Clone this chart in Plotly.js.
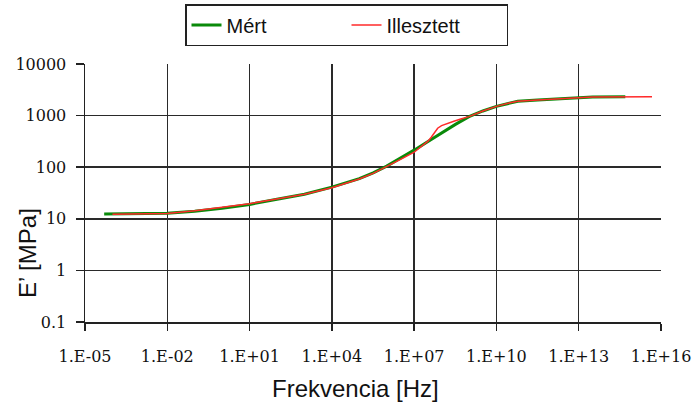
<!DOCTYPE html>
<html>
<head>
<meta charset="utf-8">
<script src="https://cdn.plot.ly/plotly-3.0.1.min.js"></script>
<style>html,body{margin:0;padding:0;background:#fff;}#chart{width:698px;height:406px;}</style>
</head>
<body>
<div id="chart"></div>
<script>
// Frequency [Hz] and storage modulus E' [MPa]
const mertX = [5e-5, 1e-3, 1e-2, 1e-1, 1, 10, 25, 100, 1e3, 1e4, 1e5, 3.2e5, 1e6, 3.2e6, 1e7, 3.2e7, 1e8, 3.2e8, 1e9, 3.2e9, 1e10, 3.2e10, 6e10, 3.2e11, 3.2e12, 3.2e13, 5e14];
const mertY = [12.4, 12.5, 12.8, 14, 16, 19, 21, 24, 30, 41, 60, 78, 105, 148, 214, 316, 468, 676, 955, 1230, 1510, 1780, 1900, 2000, 2150, 2300, 2330];
const illX = [1e-4, 1e-3, 1e-2, 1e-1, 1, 10, 25, 100, 1e3, 1e4, 1e5, 3.2e5, 1e6, 3.2e6, 1e7, 3.2e7, 4.2e7, 5.5e7, 7.2e7, 1e8, 1.6e8, 2.8e8, 5e8, 1e9, 3.2e9, 1e10, 3.2e10, 6e10, 3.2e11, 3.2e12, 3.2e13, 4.7e15];
const illY = [12.3, 12.4, 12.7, 14.3, 16.5, 19.6, 21.5, 24.5, 30, 40, 59, 76, 102, 142, 195, 320, 380, 470, 570, 640, 710, 780, 860, 955, 1230, 1510, 1780, 1900, 2000, 2150, 2300, 2330];
const xTickVals = [1e-5, 1e-2, 1e1, 1e4, 1e7, 1e10, 1e13, 1e16];
const xTickText = ["1.E-05", "1.E-02", "1.E+01", "1.E+04", "1.E+07", "1.E+10", "1.E+13", "1.E+16"];
const yTickVals = [0.1, 1, 10, 100, 1000, 10000];
const yTickText = ["0.1", "1", "10", "100", "1000", "10000"];
const seriesNames = ["Mért", "Illesztett"];

const traces = [
  {x: mertX, y: mertY, name: seriesNames[0], type: 'scatter', mode: 'lines',
   line: {color: '#0a8a0a', width: 3}},
  {x: illX, y: illY, name: seriesNames[1], type: 'scatter', mode: 'lines',
   line: {color: '#ff2a2a', width: 1.5}}
];

const tickFont = {family: '"DejaVu Serif", "Liberation Serif", serif', size: 16, color: '#111'};
const titleFont = {family: '"Liberation Sans", Arial, sans-serif', size: 24, color: '#111'};
const layout = {
  width: 698, height: 406,
  margin: {l: 85, r: 37, t: 64, b: 84, autoexpand: false},
  paper_bgcolor: '#fff', plot_bgcolor: '#fff',
  showlegend: true,
  legend: {
    orientation: 'h', xref: 'paper', xanchor: 'left',
    yref: 'paper', yanchor: 'top',
    x: (185 - 85) / 576, y: (406 - 84 - 4) / 258,
    bordercolor: '#222', borderwidth: 1.5, bgcolor: '#fff',
    font: {family: '"Liberation Sans", Arial, sans-serif', size: 20, color: '#111'},
    entrywidth: 115, entrywidthmode: 'pixels', tracegroupgap: 0
  },
  xaxis: {
    type: 'log', range: [-5, 16],
    tickvals: xTickVals, ticktext: xTickText,
    ticks: 'outside', ticklen: 7, tickwidth: 1.5, tickcolor: '#222',
    tickfont: tickFont, ticklabelstandoff: 12,
    showgrid: true, gridcolor: '#2a2a2a', gridwidth: 1.5,
    showline: true, linecolor: '#222', linewidth: 1.5,
    zeroline: false, fixedrange: true
  },
  yaxis: {
    type: 'log', range: [-1, 4],
    tickvals: yTickVals, ticktext: yTickText,
    ticks: 'outside', ticklen: 8, tickwidth: 1.5, tickcolor: '#222',
    tickfont: tickFont, ticklabelstandoff: 6,
    showgrid: true, gridcolor: '#2a2a2a', gridwidth: 1.5,
    showline: true, linecolor: '#222', linewidth: 1.5,
    zeroline: false, fixedrange: true
  },
  annotations: [
    {text: 'Frekvencia [Hz]', xref: 'paper', yref: 'paper', x: (355 - 85) / 576, y: (406 - 388 - 84) / 258,
     xanchor: 'center', yanchor: 'middle', showarrow: false, font: titleFont},
    {text: 'E’ [MPa]', xref: 'paper', yref: 'paper', x: (27 - 85) / 576, y: (406 - 253 - 84) / 258,
     xanchor: 'center', yanchor: 'middle', showarrow: false, textangle: -90, font: titleFont}
  ]
};

Plotly.newPlot('chart', traces, layout, {displayModeBar: false, staticPlot: true});
</script>
</body>
</html>
